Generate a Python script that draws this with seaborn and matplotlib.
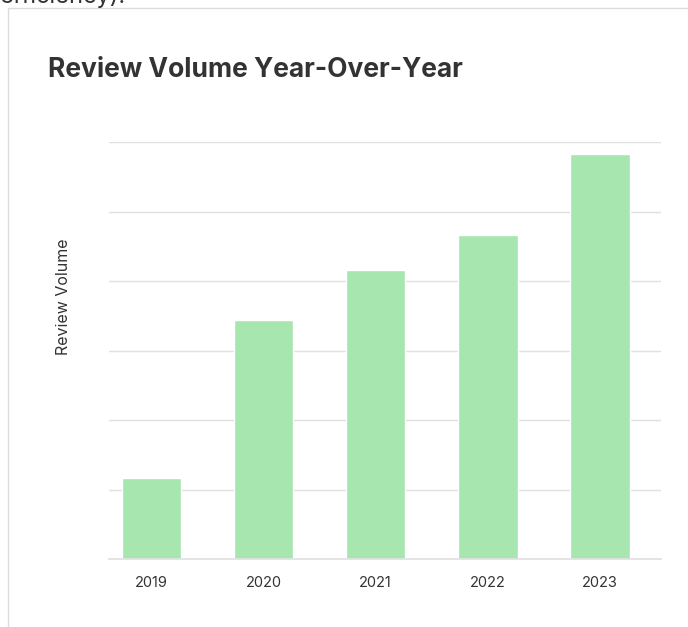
import matplotlib
matplotlib.use("Agg")
import matplotlib.pyplot as plt
import seaborn as sns
import pandas as pd
from matplotlib.lines import Line2D

years = ["2019", "2020", "2021", "2022", "2023"]
volumes = [1170, 3440, 4160, 4660, 5830]
y_ticks = [0, 1000, 2000, 3000, 4000, 5000, 6000]

df = pd.DataFrame({"Year": years, "Volume": volumes})

sns.set_theme(style="white")
plt.rcParams["font.family"] = ["Inter", "DejaVu Sans"]

W, H = 688, 627
fig = plt.figure(figsize=(W / 100, H / 100), dpi=100)

# card border
fig.add_artist(Line2D([8 / W, 1], [1 - 8 / H, 1 - 8 / H], color="#dcdcdc", lw=1))
fig.add_artist(Line2D([8 / W, 8 / W], [0, 1 - 8 / H], color="#dcdcdc", lw=1))
# clipped text from above
fig.text(0 / W, 1 - 3 / H, "efficiency).", fontsize=17, color="#333333", va="baseline", ha="left")

left, right, top, bottom = 109, 661, 142, 559
ax = fig.add_axes([left / W, 1 - bottom / H, (right - left) / W, (bottom - top) / H])
sns.barplot(data=df, x="Year", y="Volume", ax=ax, color="#a8e6b0", saturation=1, width=0.53)
ax.set_ylim(0, 6000)
ax.set_xlim(-0.379, 4.545)
ax.set_yticks(y_ticks)
ax.set_yticklabels([])
ax.yaxis.grid(True, color="#e0e0e0", lw=1)
ax.set_axisbelow(True)
for s in ["left", "right", "top"]:
    ax.spines[s].set_visible(False)
ax.spines["bottom"].set_color("#e0e0e0")
ax.tick_params(axis="x", length=0, pad=12, labelsize=10.5, labelcolor="#333333")
ax.tick_params(axis="y", length=0)
ax.set_xlabel("")
ax.set_ylabel("")

fig.text(64 / W, 1 - 297 / H, "Review Volume", fontsize=11.5, color="#333333",
         rotation=90, va="center", ha="center")

fig.text(48 / W, 1 - 70 / H, "Review Volume Year-Over-Year", fontsize=19, fontweight="bold",
         color="#333333", va="center", ha="left")

fig.savefig("out.png", dpi=100)
